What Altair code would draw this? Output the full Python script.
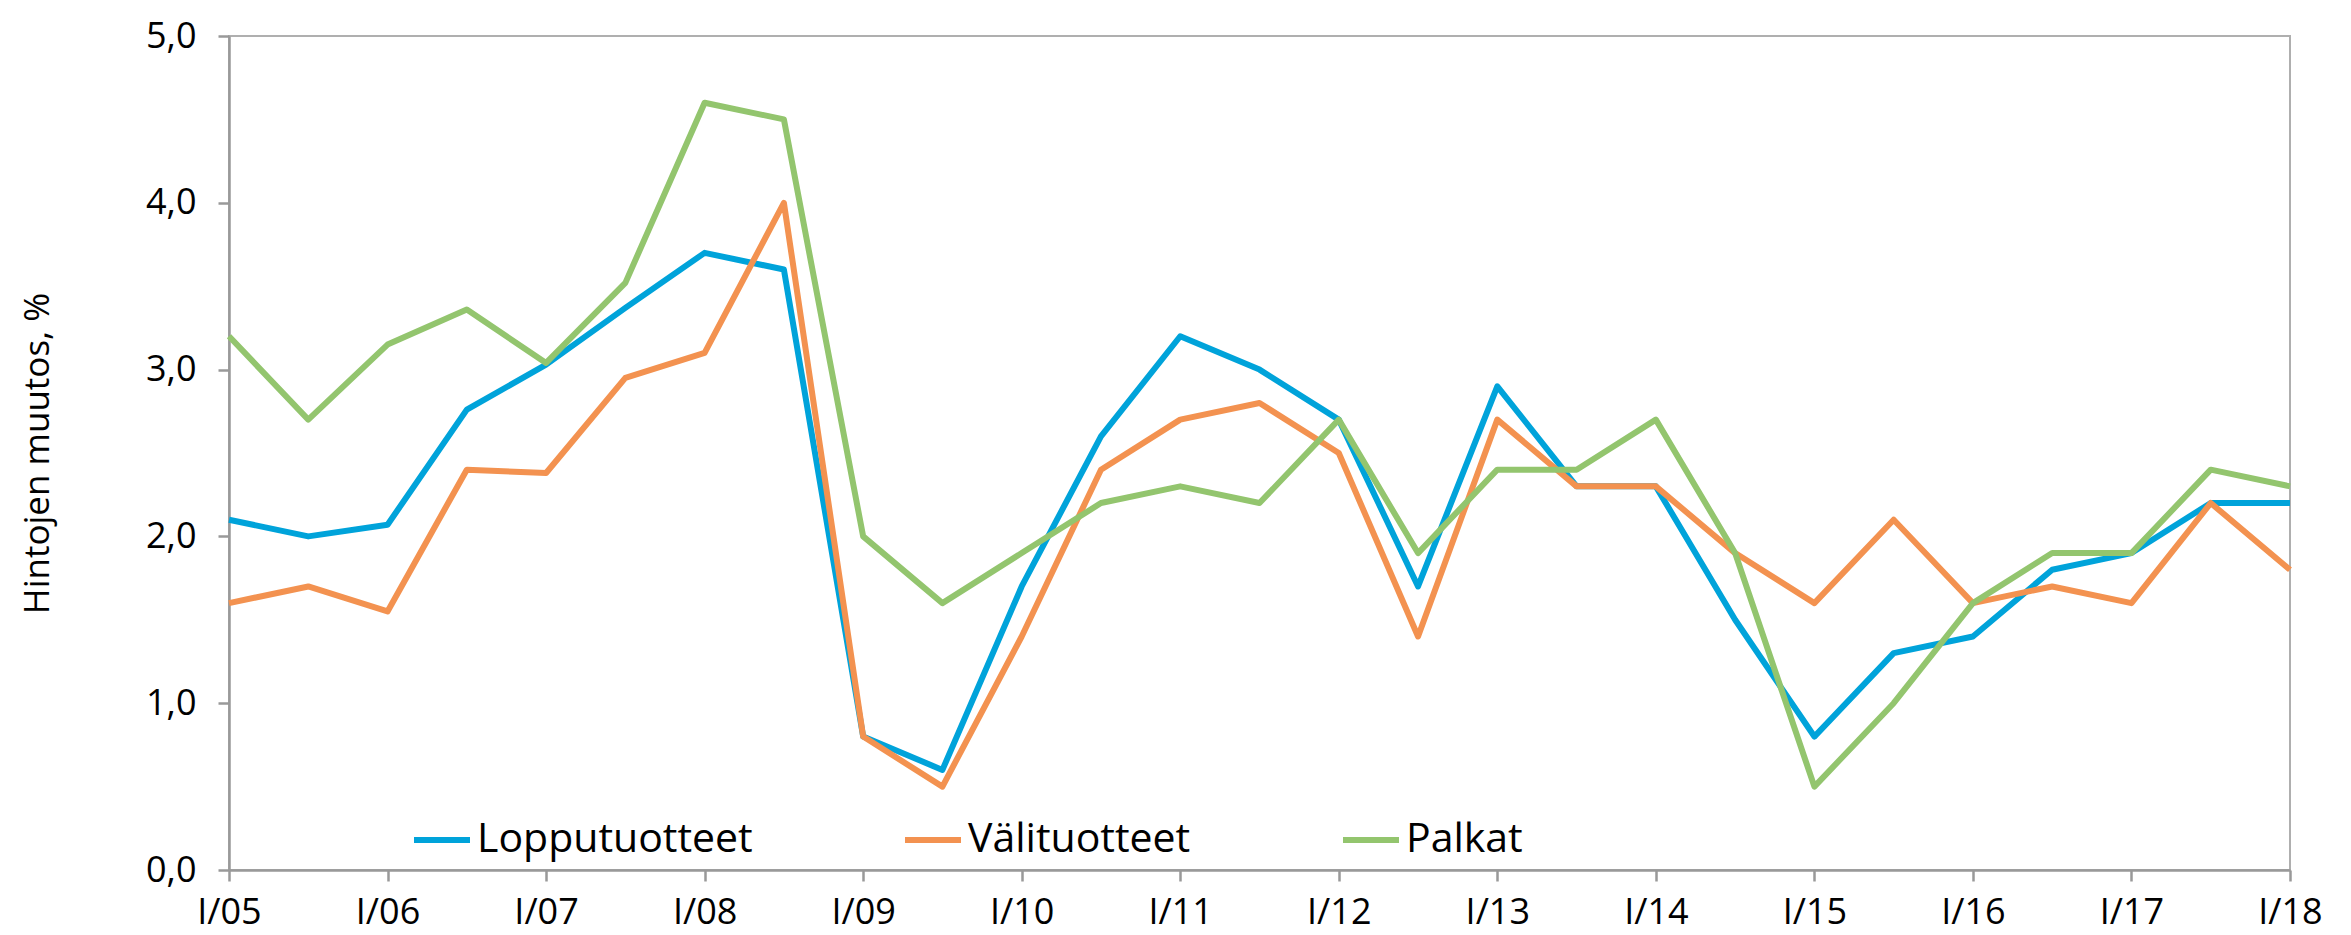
import altair as alt
import pandas as pd

# Half-year periods from I/05 to I/18
periods = []
for yr in range(5, 18):
    periods += [f"I/{yr:02d}", f"II/{yr:02d}"]
periods.append("I/18")

tick_labels = ["I/05", "I/06", "I/07", "I/08", "I/09", "I/10", "I/11",
               "I/12", "I/13", "I/14", "I/15", "I/16", "I/17", "I/18"]

series_names = ["Lopputuotteet", "Välituotteet", "Palkat"]
series_colors = ["#00A3DA", "#F39250", "#93C56E"]

lopputuotteet = [2.1, 2.0, 2.07, 2.76, 3.03, 3.37, 3.7, 3.6, 0.8, 0.6, 1.7, 2.6, 3.2, 3.0,
                 2.7, 1.7, 2.9, 2.3, 2.3, 1.5, 0.8, 1.3, 1.4, 1.8, 1.9, 2.2, 2.2]
valituotteet = [1.6, 1.7, 1.55, 2.4, 2.38, 2.95, 3.1, 4.0, 0.8, 0.5, 1.4, 2.4, 2.7, 2.8,
                2.5, 1.4, 2.7, 2.3, 2.3, 1.9, 1.6, 2.1, 1.6, 1.7, 1.6, 2.2, 1.8]
palkat = [3.2, 2.7, 3.15, 3.36, 3.04, 3.52, 4.6, 4.5, 2.0, 1.6, 1.9, 2.2, 2.3, 2.2,
          2.7, 1.9, 2.4, 2.4, 2.7, 1.9, 0.5, 1.0, 1.6, 1.9, 1.9, 2.4, 2.3]

rows = []
for name, vals in zip(series_names, [lopputuotteet, valituotteet, palkat]):
    for i, v in enumerate(vals):
        rows.append({"idx": i, "period": periods[i], "series": name, "value": v})
df = pd.DataFrame(rows)

label_array = "[" + ",".join(f"'{t}'" for t in tick_labels) + "]"

FONT = "Open Sans"

chart = alt.Chart(df).mark_line(strokeWidth=6, strokeJoin="round").encode(
    x=alt.X("idx:Q",
            scale=alt.Scale(domain=[0, len(periods) - 1], nice=False, zero=False),
            axis=alt.Axis(values=list(range(0, len(periods), 2)),
                          labelExpr=f"{label_array}[datum.value/2]",
                          title=None, grid=False, tickSize=11,
                          labelPadding=14, labelFontSize=36, labelFlush=False,
                          domainColor="#999999", domainWidth=2.5,
                          tickColor="#999999", tickWidth=2.5,
                          labelColor="#000000", labelFont=FONT)),
    y=alt.Y("value:Q",
            scale=alt.Scale(domain=[0, 5], nice=False),
            axis=alt.Axis(values=[0, 1, 2, 3, 4, 5],
                          labelExpr="replace(format(datum.value, '.1f'), '.', ',')",
                          title="Hintojen muutos, %", titleFontSize=35,
                          titleFontWeight="normal", titleFont=FONT,
                          titleColor="#000000", titlePadding=90,
                          grid=False, tickSize=11, labelPadding=22,
                          labelFontSize=36, labelFont=FONT, labelColor="#000000",
                          labelFlush=False,
                          domainColor="#999999", domainWidth=2.5,
                          tickColor="#999999", tickWidth=2.5)),
    color=alt.Color("series:N",
                    scale=alt.Scale(domain=series_names, range=series_colors),
                    sort=series_names,
                    legend=alt.Legend(orient="none", legendX=182, legendY=773,
                                      direction="horizontal", title=None,
                                      symbolType="stroke", symbolSize=3136,
                                      symbolStrokeWidth=6, labelFontSize=41,
                                      labelFont=FONT, labelColor="#000000",
                                      labelOffset=4, columnPadding=140,
                                      labelLimit=0, padding=0)),
    detail="series:N",
).properties(
    width=2061, height=834,
    padding={"left": 12, "top": 10, "right": 5, "bottom": 14},
).configure_view(
    stroke="#AFAFAF", strokeWidth=2
)

chart.save("out.html", embed_options={"renderer": "svg", "actions": False})
